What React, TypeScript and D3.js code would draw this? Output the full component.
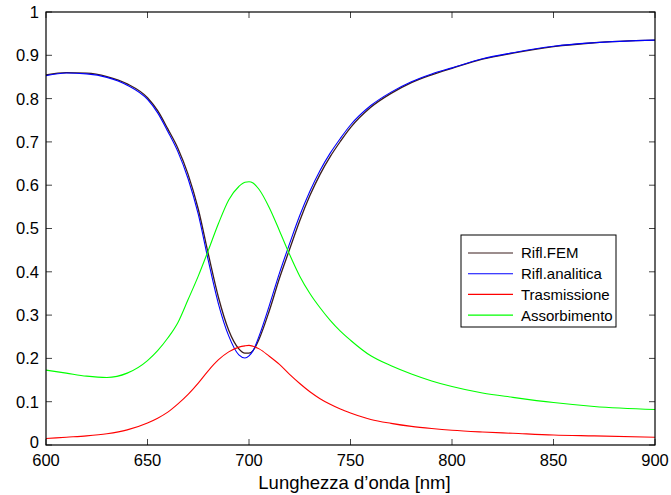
import React from "react";
import * as d3 from "d3";

const wavelengths = [600,610,620,630,640,650,655,660,665,670,675,680,685,690,695,698,700,702,705,710,715,720,725,730,735,740,745,750,760,770,780,790,800,815,830,850,870,900];

const riflFEM = [0.855,0.860,0.859,0.851,0.834,0.802,0.772,0.730,0.685,0.625,0.545,0.440,0.340,0.265,0.222,0.212,0.212,0.218,0.245,0.310,0.385,0.452,0.518,0.576,0.625,0.666,0.701,0.733,0.780,0.812,0.837,0.855,0.870,0.891,0.905,0.920,0.929,0.935];

const riflAnalitica = [0.853,0.859,0.857,0.849,0.831,0.798,0.767,0.724,0.677,0.615,0.533,0.425,0.325,0.252,0.208,0.201,0.206,0.218,0.252,0.322,0.397,0.465,0.530,0.586,0.634,0.674,0.708,0.739,0.784,0.815,0.839,0.857,0.871,0.892,0.906,0.921,0.929,0.935];

const trasmissione = [0.015,0.018,0.021,0.026,0.035,0.051,0.062,0.076,0.095,0.117,0.143,0.172,0.197,0.215,0.226,0.229,0.230,0.228,0.222,0.205,0.186,0.163,0.142,0.123,0.107,0.094,0.083,0.074,0.059,0.050,0.043,0.038,0.034,0.030,0.027,0.023,0.021,0.018];

const assorbimento = [0.173,0.166,0.159,0.156,0.166,0.195,0.218,0.247,0.283,0.336,0.390,0.450,0.512,0.566,0.597,0.607,0.608,0.605,0.590,0.548,0.495,0.440,0.390,0.350,0.317,0.288,0.263,0.242,0.206,0.183,0.164,0.148,0.135,0.120,0.110,0.098,0.089,0.082];

const xTicks = [600,650,700,750,800,850,900];
const yTicks = [0,0.1,0.2,0.3,0.4,0.5,0.6,0.7,0.8,0.9,1];

const seriesNames = ["Rifl.FEM","Rifl.analitica","Trasmissione","Assorbimento"];
const seriesColors = ["#3a1c1c","#0000ff","#ff0000","#00ff00"];
const seriesData = [riflFEM, riflAnalitica, trasmissione, assorbimento];

const xLabel = "Lunghezza d\u2019onda [nm]";

export default function App() {
  const W = 671, H = 495;
  const left = 46, right = 655, top = 12, bottom = 445;
  const x = d3.scaleLinear().domain([600, 900]).range([left, right]);
  const y = d3.scaleLinear().domain([0, 1]).range([bottom, top]);
  const line = d3.line<[number, number]>()
    .x(d => x(d[0]))
    .y(d => y(d[1]))
    .curve(d3.curveMonotoneX);
  const font = "'Liberation Sans', Arial, Helvetica, sans-serif";
  const tickLen = 6;

  const legendX = 461, legendY = 235, legendW = 155, legendH = 92;
  const legendRow = (i: number) => 253 + i * 20.7;

  return (
    <svg width={W} height={H} style={{ position: "absolute", left: 0, top: 0, background: "#fff" }} fontFamily={font}>
      <rect x={0} y={0} width={W} height={H} fill="#fff" />
      <defs>
        <clipPath id="plotClip">
          <rect x={left} y={top} width={right - left} height={bottom - top} />
        </clipPath>
      </defs>
      {xTicks.map(t => (
        <g key={"xt" + t}>
          <line x1={x(t)} x2={x(t)} y1={bottom} y2={bottom - tickLen} stroke="#444" strokeWidth={1} />
          <line x1={x(t)} x2={x(t)} y1={top} y2={top + tickLen} stroke="#444" strokeWidth={1} />
          <text x={x(t)} y={466} fontSize={16.5} textAnchor="middle" fill="#000">{t}</text>
        </g>
      ))}
      {yTicks.map(t => (
        <g key={"yt" + t}>
          <line x1={left} x2={left + tickLen} y1={y(t)} y2={y(t)} stroke="#444" strokeWidth={1} />
          <line x1={right} x2={right - tickLen} y1={y(t)} y2={y(t)} stroke="#444" strokeWidth={1} />
          <text x={39} y={y(t)} dy={t === 0 ? "0.2em" : "0.36em"} fontSize={16.5} textAnchor="end" fill="#000">{d3.format("~g")(t)}</text>
        </g>
      ))}
      <g clipPath="url(#plotClip)">
        {seriesData.map((s, i) => (
          <path
            key={seriesNames[i]}
            d={line(wavelengths.map((w, j) => [w, s[j]] as [number, number])) || ""}
            fill="none"
            stroke={seriesColors[i]}
            strokeWidth={i === 0 ? 1.3 : 1.1}
          />
        ))}
      </g>
      <rect x={left} y={top} width={right - left} height={bottom - top} fill="none" stroke="#000" strokeWidth={1.2} />
      <text x={(left + right) / 2 + 4} y={489} fontSize={18.5} textAnchor="middle" fill="#000">{xLabel}</text>
      <rect x={legendX} y={legendY} width={legendW} height={legendH} fill="#fff" stroke="#000" strokeWidth={1} />
      {seriesNames.map((n, i) => (
        <g key={"lg" + n}>
          <line x1={468} x2={513} y1={legendRow(i)} y2={legendRow(i)} stroke={seriesColors[i]} strokeWidth={1.1} />
          <text x={521} y={legendRow(i)} dy="0.36em" fontSize={15} fill="#000">{n}</text>
        </g>
      ))}
    </svg>
  );
}
